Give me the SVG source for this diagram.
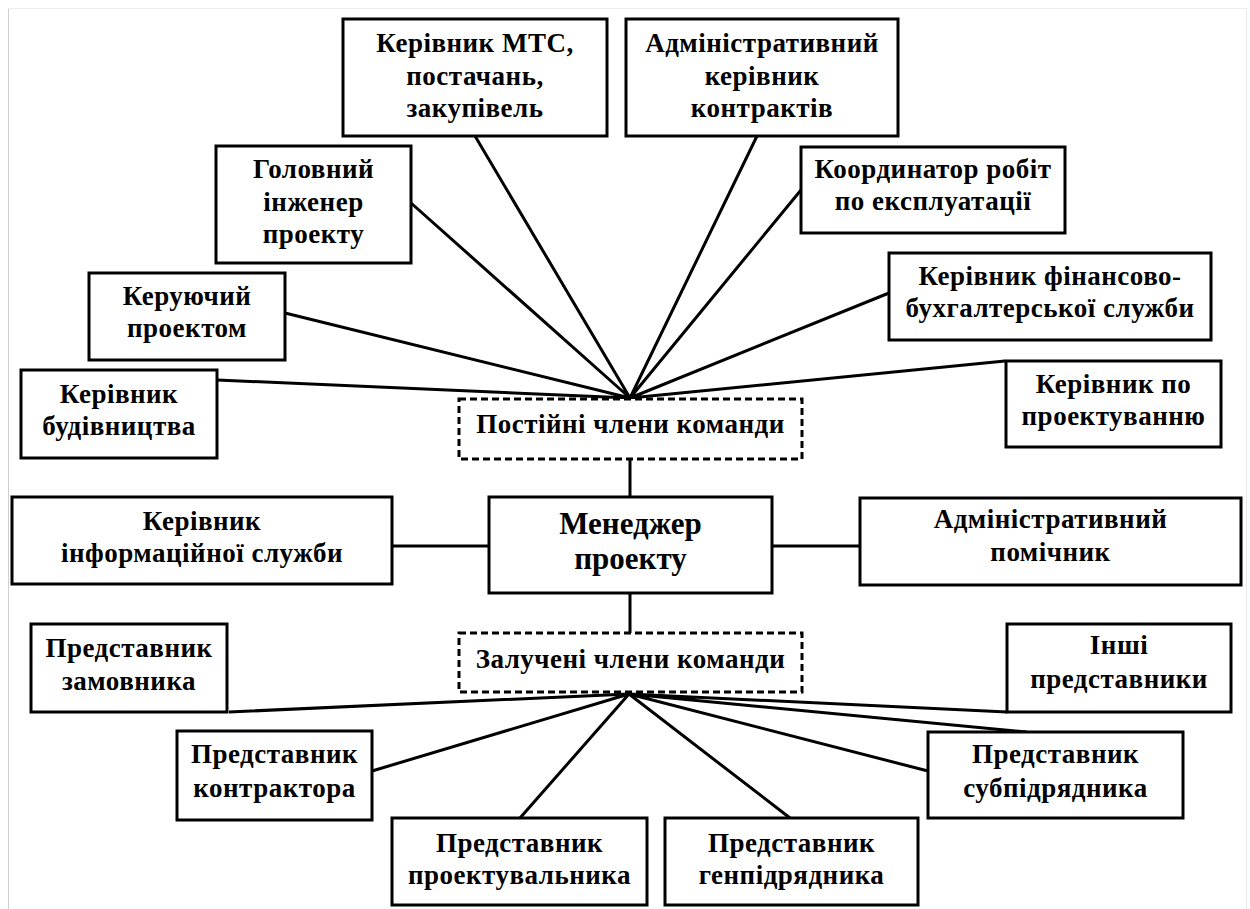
<svg xmlns="http://www.w3.org/2000/svg" width="1250" height="909" viewBox="0 0 1250 909">
<style>
.b{fill:#fff;stroke:#000;stroke-width:3}
.d{fill:#fff;stroke:#000;stroke-width:3;stroke-dasharray:7 4}
.t{font-family:"Liberation Serif","Times New Roman",serif;font-weight:bold;font-size:27px;letter-spacing:0.5px;fill:#000;text-anchor:middle}
.m{font-size:31px;letter-spacing:0}
.c{stroke:#000;stroke-width:3;fill:none}
</style>
<rect width="1250" height="909" fill="#fff"/>
<line x1="8.5" y1="8" x2="8.5" y2="909" stroke="#cfcfcf" stroke-width="1"/>
<line x1="8" y1="8.5" x2="1247" y2="8.5" stroke="#eeeeee" stroke-width="1"/>
<line x1="1246.5" y1="8" x2="1246.5" y2="909" stroke="#e8e8e8" stroke-width="1"/>
<g id="connectors">
<path class="c" d="M630 398L475 136M630 398L757 136M630 398L411 203M630 398L801 190M630 398L285 313M630 398L889 293M630 398L217 380M630 398L1005 361"/>
<path class="c" d="M630 459V497M630 593V633M392 546H489M772 546H860"/>
<path class="c" d="M629 694L229 712M629 694L372 771M629 694L520 818M629 694L790 818M629 694L928 771M629 694L1027 732M629 694L1007 712"/>
</g>
<g id="mts"><rect class="b" x="343" y="19" width="264" height="117"/><text class="t"><tspan x="475" y="52">Керівник МТС,</tspan><tspan x="475" y="85">постачань,</tspan><tspan x="475" y="117">закупівель</tspan></text></g>
<g id="kontrakty"><rect class="b" x="626" y="19" width="272" height="117"/><text class="t"><tspan x="762" y="52">Адміністративний</tspan><tspan x="762" y="85">керівник</tspan><tspan x="762" y="117">контрактів</tspan></text></g>
<g id="holovnyi"><rect class="b" x="216" y="146" width="195" height="117"/><text class="t"><tspan x="313.5" y="178">Головний</tspan><tspan x="313.5" y="211">інженер</tspan><tspan x="313.5" y="243">проекту</tspan></text></g>
<g id="koordynator"><rect class="b" x="801" y="147" width="264" height="86"/><text class="t"><tspan x="933" y="178">Координатор робіт</tspan><tspan x="933" y="210">по експлуатації</tspan></text></g>
<g id="keruiuchyi"><rect class="b" x="89" y="273" width="196" height="87"/><text class="t"><tspan x="187" y="305">Керуючий</tspan><tspan x="187" y="337">проектом</tspan></text></g>
<g id="finansy"><rect class="b" x="889" y="253" width="322" height="87"/><text class="t"><tspan x="1050" y="285">Керівник фінансово-</tspan><tspan x="1050" y="317">бухгалтерської служби</tspan></text></g>
<g id="budivnytstvo"><rect class="b" x="21" y="370" width="196" height="88"/><text class="t"><tspan x="119" y="403">Керівник</tspan><tspan x="119" y="435">будівництва</tspan></text></g>
<g id="proektuvannia"><rect class="b" x="1006" y="361" width="215" height="86"/><text class="t"><tspan x="1113.5" y="393">Керівник по</tspan><tspan x="1113.5" y="425">проектуванню</tspan></text></g>
<g id="postiini"><rect class="d" x="459" y="399" width="343" height="60"/><text class="t" x="630.5" y="433">Постійні члени команди</text></g>
<g id="menedzher"><rect class="b" x="489" y="497" width="283" height="96"/><text class="t m"><tspan x="630.5" y="534">Менеджер</tspan><tspan x="630.5" y="569">проекту</tspan></text></g>
<g id="informatsiia"><rect class="b" x="12" y="497" width="380" height="87"/><text class="t"><tspan x="202" y="530">Керівник</tspan><tspan x="202" y="562">інформаційної служби</tspan></text></g>
<g id="pomichnyk"><rect class="b" x="860" y="498" width="381" height="87"/><text class="t"><tspan x="1050.5" y="528">Адміністративний</tspan><tspan x="1050.5" y="561">помічник</tspan></text></g>
<g id="zalucheni"><rect class="d" x="459" y="633" width="343" height="59"/><text class="t" x="630.5" y="668">Залучені члени команди</text></g>
<g id="zamovnyk"><rect class="b" x="31" y="624" width="196" height="88"/><text class="t"><tspan x="129" y="657">Представник</tspan><tspan x="129" y="690">замовника</tspan></text></g>
<g id="inshi"><rect class="b" x="1007" y="624" width="224" height="88"/><text class="t"><tspan x="1119" y="654">Інші</tspan><tspan x="1119" y="688">представники</tspan></text></g>
<g id="kontraktor"><rect class="b" x="177" y="731" width="195" height="89"/><text class="t"><tspan x="274.5" y="763">Представник</tspan><tspan x="274.5" y="797">контрактора</tspan></text></g>
<g id="subpidriadnyk"><rect class="b" x="928" y="732" width="255" height="86"/><text class="t"><tspan x="1055.5" y="763">Представник</tspan><tspan x="1055.5" y="797">субпідрядника</tspan></text></g>
<g id="proektuvalnyk"><rect class="b" x="392" y="818" width="255" height="87"/><text class="t"><tspan x="519.5" y="852">Представник</tspan><tspan x="519.5" y="884">проектувальника</tspan></text></g>
<g id="henpidriadnyk"><rect class="b" x="665" y="818" width="253" height="87"/><text class="t"><tspan x="791.5" y="852">Представник</tspan><tspan x="791.5" y="884">генпідрядника</tspan></text></g>
</svg>
